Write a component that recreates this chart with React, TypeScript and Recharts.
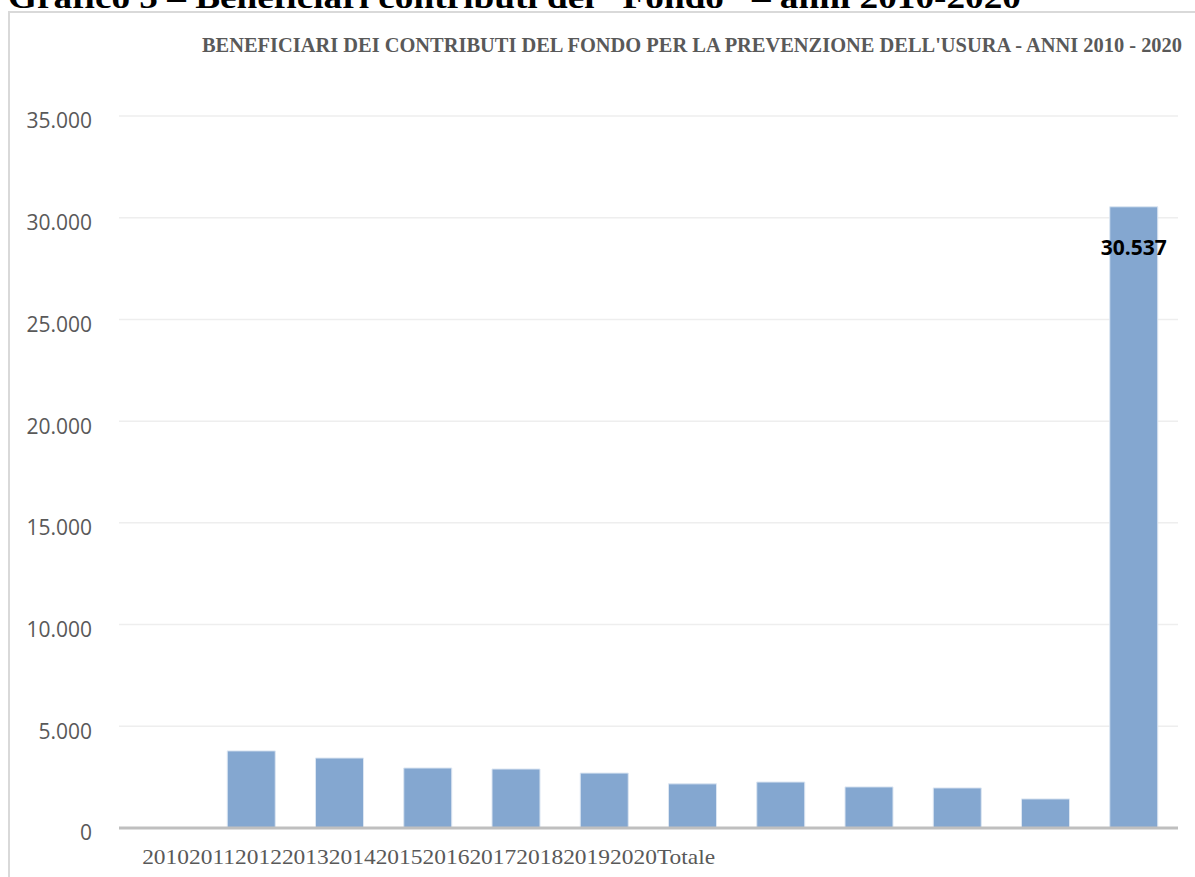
import React from "react";
import {
  BarChart,
  Bar,
  XAxis,
  YAxis,
  CartesianGrid,
  LabelList,
} from "recharts";

const categories = [
  "2010",
  "2011",
  "2012",
  "2013",
  "2014",
  "2015",
  "2016",
  "2017",
  "2018",
  "2019",
  "2020",
  "Totale",
];

// 2010 has no bar in the source chart
const beneficiari: (number | null)[] = [
  null, 3790, 3440, 2950, 2900, 2700, 2170, 2260, 2020, 1970, 1430, 30537,
];

const yTicks = [0, 5000, 10000, 15000, 20000, 25000, 30000, 35000];

const heading = "Grafico 5 – Beneficiari contributi del \u201CFondo\u201D – anni 2010-2020";
const chartTitle =
  "BENEFICIARI DEI CONTRIBUTI DEL FONDO PER LA PREVENZIONE DELL'USURA  - ANNI 2010 - 2020";

const totale = beneficiari[beneficiari.length - 1];

const data = categories.map((anno, i) => ({
  anno,
  valore: beneficiari[i],
}));

const formatIt = (v: number) => v.toLocaleString("it-IT");

// the source squeezes all category labels into one run of text
function CrampedTick(props: any) {
  const { x, y, index } = props;
  if (index !== 0) return null;
  return (
    <text
      x={x - 21}
      y={y + 28}
      fill="#595959"
      fontFamily="'Liberation Serif', serif"
      fontSize={22}
      textLength={573}
      lengthAdjust="spacingAndGlyphs"
    >
      {categories.join("")}
    </text>
  );
}

function YTick(props: any) {
  const { x, y, payload } = props;
  return (
    <text
      x={x}
      y={y + 5}
      dy="0.355em"
      textAnchor="end"
      fill="#595959"
      fontFamily="'Open Sans', sans-serif"
      fontSize={21}
    >
      {formatIt(payload.value)}
    </text>
  );
}

// only the total bar carries a data label
function TotalLabel(props: any) {
  const { x, y, width, value } = props;
  if (Number(value) !== totale) return null;
  return (
    <text
      x={Number(x) + Number(width) / 2}
      y={Number(y) + 48}
      textAnchor="middle"
      fill="#000000"
      fontFamily="'Open Sans', sans-serif"
      fontWeight="bold"
      fontSize={21}
    >
      {formatIt(Number(value))}
    </text>
  );
}

export default function App() {
  return (
    <div
      style={{
        position: "absolute",
        left: 0,
        top: 0,
        width: 1195,
        height: 877,
        overflow: "hidden",
        background: "#ffffff",
      }}
    >
      <div
        style={{
          position: "absolute",
          left: 8,
          top: 11,
          width: 1200,
          height: 900,
          border: "2px solid #d9d9d9",
        }}
      />
      <svg
        width={1195}
        height={877}
        style={{ position: "absolute", left: 0, top: 0 }}
      >
        <text
          x={8}
          y={8}
          fill="#000000"
          fontFamily="'Liberation Serif', serif"
          fontWeight="bold"
          fontSize={32}
          textLength={1013}
          lengthAdjust="spacingAndGlyphs"
        >
          {heading}
        </text>
        <text
          x={202}
          y={52}
          fill="#595959"
          fontFamily="'Liberation Serif', serif"
          fontWeight="bold"
          fontSize={20}
          textLength={980}
          lengthAdjust="spacingAndGlyphs"
        >
          {chartTitle}
        </text>
      </svg>
      <div style={{ position: "absolute", left: 0, top: 0 }}>
        <BarChart
          width={1195}
          height={877}
          data={data}
          margin={{ top: 116, right: 17, bottom: 19, left: 0 }}
        >
          <CartesianGrid
            vertical={false}
            stroke="#eeeeee"
            strokeWidth={1.5}
          />
          <XAxis
            dataKey="anno"
            height={30}
            axisLine={{ stroke: "#bfbfbf", strokeWidth: 3 }}
            tickLine={false}
            interval={0}
            tick={<CrampedTick />}
          />
          <YAxis
            width={119}
            domain={[0, 35000]}
            ticks={yTicks}
            axisLine={false}
            tickLine={false}
            tickSize={0}
            tickMargin={27}
            tick={<YTick />}
          />
          <Bar
            dataKey="valore"
            fill="#84a7d0"
            stroke="#dce6f2"
            strokeWidth={1}
            barSize={48}
            isAnimationActive={false}
          >
            <LabelList dataKey="valore" content={<TotalLabel />} />
          </Bar>
        </BarChart>
      </div>
    </div>
  );
}
